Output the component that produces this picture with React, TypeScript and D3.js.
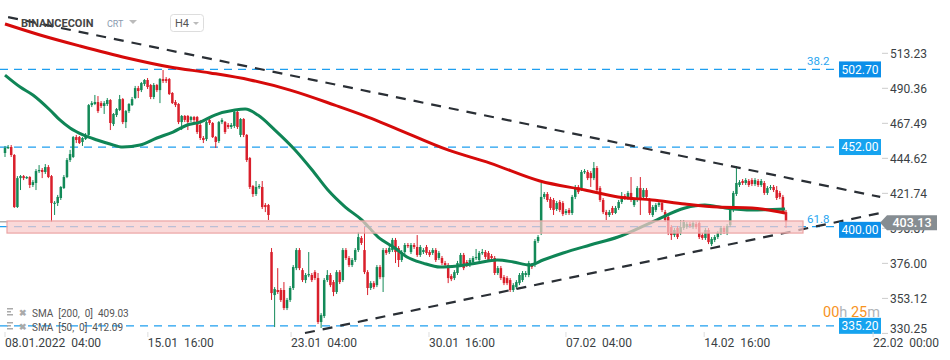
import React from 'react';
import * as d3 from 'd3';

// BNB H4 candles, 08.01.2022 04:00 onwards
const opens = [
  448.1, 451.4, 452.0, 446.8, 412.8, 431.7, 433.0, 431.7, 432.4, 427.2,
  428.5, 436.3, 437.0, 435.7, 438.9, 433.0, 415.4, 415.4, 418.7, 425.2,
  432.4, 443.5, 445.5, 458.5, 458.5, 455.3, 457.2, 459.9, 479.4, 480.1,
  481.4, 480.7, 478.8, 480.1, 482.7, 467.0, 472.9, 476.2, 483.3, 468.3,
  475.5, 479.4, 484.0, 490.5, 489.2, 493.2, 495.8, 492.5, 484.7, 492.5,
  489.2, 496.4, 496.4, 496.4, 487.3, 481.4, 480.1, 468.3, 472.3, 472.3,
  469.7, 471.6, 471.6, 466.4, 457.9, 457.2, 469.7, 467.7, 458.5, 455.9,
  468.3, 468.3, 466.4, 465.1, 465.7, 474.9, 459.9, 470.3, 459.9, 444.8,
  426.5, 421.3, 425.9, 425.9, 414.1, 414.1, 383.4, 355.3, 358.6, 358.6,
  358.6, 346.8, 352.1, 359.9, 372.9, 384.7, 371.6, 365.1, 368.4, 368.4,
  370.3, 366.4, 337.7, 341.6, 365.1, 368.4, 363.8, 357.3, 370.3, 365.1,
  384.7, 379.5, 374.9, 378.2, 384.7, 392.6, 384.7, 370.3, 359.9, 363.1,
  361.8, 373.6, 367.0, 384.7, 383.4, 384.7, 391.3, 386.0, 378.2, 383.4,
  388.0, 383.4, 388.0, 386.7, 381.5, 383.4, 386.7, 383.4, 382.8,
  384.7, 379.5, 379.5, 376.2, 374.9, 367.7, 366.4, 369.7, 374.9, 381.5,
  376.9, 374.9, 376.9, 379.5, 378.2, 382.8, 383.4, 382.8, 380.8,
  379.5, 369.7, 372.9, 367.0, 366.4, 365.1, 358.6, 360.5, 363.1, 365.1,
  368.4, 368.4, 374.9, 374.9, 390.6, 395.8, 419.4, 421.3, 418.0,
  417.4, 411.5, 416.1, 415.4, 408.9, 410.9, 408.9, 419.4, 425.9,
  424.6, 435.7, 435.7, 435.0, 431.7, 438.3, 425.2, 417.4, 409.5, 407.6,
  412.2, 408.9, 412.2, 416.1, 420.0, 418.7, 422.0, 414.1, 417.4, 425.2,
  419.4, 423.9, 417.4, 407.6, 410.9, 414.1, 415.4, 409.5, 406.3, 399.7,
  394.5, 399.1, 395.8, 399.1, 399.7, 401.7, 399.7, 401.7,
  402.4, 394.5, 392.6, 397.8, 388.6, 391.3, 393.2, 395.8, 399.1, 395.8,
  401.0, 410.9, 421.3, 427.2, 429.8, 428.5, 429.8, 430.4, 427.8, 429.8,
  427.2, 428.5, 422.0, 425.2, 425.9, 423.9, 422.0, 419.4, 409.5,
];
const closes = [
  451.4, 452.0, 446.8, 412.8, 431.7, 433.0, 431.7, 432.4, 427.2, 429.1,
  436.3, 437.0, 435.7, 438.9, 432.4, 415.4, 415.6, 419.4, 425.9, 432.4,
  443.5, 447.4, 458.5, 456.6, 454.6, 457.9, 459.9, 479.4, 480.7, 481.4,
  475.5, 478.8, 480.7, 482.7, 467.7, 473.6, 476.8, 483.3, 468.3, 475.5,
  480.1, 483.3, 490.5, 488.6, 493.8, 495.8, 491.2, 484.7, 492.5, 489.2,
  496.4, 495.1, 495.1, 486.6, 480.7, 479.4, 468.3, 472.3, 469.7, 468.3,
  471.6, 469.7, 461.8, 457.9, 456.6, 468.3, 467.7, 458.5, 455.3, 468.3,
  469.7, 461.8, 465.1, 466.4, 474.9, 465.1, 470.3, 459.9, 443.5, 425.9,
  421.3, 425.9, 426.5, 412.8, 412.8, 407.6, 356.6, 359.2, 357.3, 352.1,
  346.8, 352.1, 359.9, 373.6, 384.7, 372.9, 365.1, 368.4, 369.0, 365.1,
  366.4, 337.7, 342.2, 365.1, 368.4, 361.8, 357.3, 370.3, 363.8, 384.7,
  379.5, 374.9, 378.2, 384.7, 393.2, 389.3, 370.3, 359.9, 363.1, 360.5,
  373.6, 367.0, 384.7, 382.8, 386.0, 391.3, 383.4, 378.2, 383.4, 388.0,
  387.3, 388.0, 386.7, 381.5, 386.7, 384.7, 382.8, 381.5, 384.7,
  378.2, 382.8, 376.2, 374.9, 366.4, 365.7, 370.3, 376.2, 381.5, 372.9,
  374.9, 378.2, 379.5, 380.2, 382.8, 383.4, 380.2, 378.2, 379.5,
  369.7, 372.9, 366.4, 363.1, 363.1, 358.6, 361.8, 363.8, 368.4, 369.7,
  369.7, 376.2, 373.6, 390.6, 393.2, 419.4, 421.3, 417.4, 412.2,
  410.9, 415.4, 410.9, 408.2, 410.2, 408.9, 419.4, 425.9, 422.6,
  435.7, 436.3, 431.7, 431.7, 438.3, 423.9, 417.4, 409.5, 407.6, 409.5,
  408.9, 412.2, 416.1, 419.4, 418.7, 422.0, 417.4, 417.4, 425.2, 418.7,
  423.9, 419.4, 408.9, 412.8, 414.1, 415.4, 410.9, 404.3, 395.8, 394.5,
  397.8, 393.2, 399.7, 403.0, 401.7, 400.4, 402.4, 399.7,
  393.2, 392.6, 397.8, 389.9, 391.9, 393.2, 395.8, 399.1, 396.5, 400.4,
  410.9, 422.0, 428.5, 429.1, 428.5, 430.4, 427.2, 427.8, 430.4, 427.2,
  429.8, 422.0, 425.2, 425.9, 423.9, 418.7, 419.4, 409.5, 403.1,
];
const highs = [
  452.7, 453.3, 453.3, 447.4, 433.0, 433.7, 433.7, 433.0, 433.0, 430.4,
  437.6, 440.2, 438.3, 440.9, 440.2, 433.7, 416.7, 420.7, 426.5, 433.7,
  444.8, 450.1, 459.2, 459.9, 459.2, 458.5, 461.1, 480.1, 482.0, 486.0,
  485.3, 482.0, 482.0, 484.0, 483.3, 474.2, 477.5, 486.0, 484.0, 476.2,
  480.7, 484.7, 491.9, 491.9, 494.5, 496.4, 497.1, 493.2, 493.8, 493.2,
  497.1, 502.3, 497.7, 497.1, 487.9, 482.7, 480.7, 472.9, 472.9, 472.9,
  472.3, 472.3, 472.3, 469.7, 459.2, 469.0, 470.9, 468.3, 459.2, 469.0,
  470.9, 469.0, 467.7, 467.7, 476.2, 475.5, 470.9, 470.9, 460.5, 445.5,
  427.2, 429.8, 427.8, 429.8, 415.4, 414.8, 386.0, 360.5, 372.9, 359.9,
  363.8, 353.4, 361.2, 374.9, 386.0, 386.0, 372.9, 369.7, 383.4, 369.7,
  371.6, 369.7, 343.5, 366.4, 371.6, 369.7, 365.1, 371.6, 371.6, 386.0,
  386.0, 380.8, 379.5, 386.0, 396.5, 393.9, 399.7, 371.6, 364.4, 364.4,
  374.9, 374.9, 386.0, 386.0, 387.3, 392.6, 392.6, 387.3, 384.7, 389.3,
  389.3, 389.3, 389.3, 394.5, 388.0, 386.0, 388.0, 384.7, 386.0,
  386.0, 384.1, 380.8, 377.6, 376.2, 369.0, 371.6, 377.6, 382.8, 382.8,
  378.2, 379.5, 380.8, 385.4, 384.1, 385.4, 384.7, 384.1, 382.1,
  380.8, 374.3, 374.3, 368.4, 367.7, 366.4, 363.1, 365.1, 369.7, 371.0,
  371.0, 377.6, 376.2, 391.9, 394.5, 428.5, 422.6, 422.6, 419.4,
  418.7, 416.7, 417.4, 416.7, 411.5, 412.2, 420.7, 427.2, 427.2,
  437.0, 437.6, 437.0, 436.3, 442.2, 439.6, 426.5, 418.7, 410.9, 410.9,
  413.5, 413.5, 417.4, 422.6, 421.3, 423.3, 432.4, 418.7, 426.5, 432.4,
  425.2, 425.2, 418.7, 414.1, 415.4, 416.7, 416.7, 410.9, 407.6, 401.0,
  399.1, 400.4, 404.3, 404.3, 403.0, 403.0, 403.7, 403.0,
  403.7, 395.8, 399.1, 399.1, 393.2, 394.5, 397.1, 400.4, 400.4, 401.7,
  412.2, 423.3, 439.6, 430.4, 431.1, 431.7, 431.1, 431.7, 431.7, 431.1,
  431.1, 429.8, 426.5, 427.2, 427.2, 426.5, 423.3, 420.7, 410.9,
];
const lows = [
  445.5, 450.7, 445.5, 412.2, 412.2, 423.9, 430.4, 431.1, 425.2, 425.9,
  423.9, 435.0, 431.7, 434.4, 431.7, 403.0, 407.6, 413.5, 417.4, 424.6,
  431.7, 442.2, 444.8, 454.6, 454.0, 452.7, 456.6, 459.2, 478.1, 479.4,
  474.2, 477.5, 473.6, 478.8, 463.1, 465.7, 471.6, 475.5, 467.0, 464.4,
  474.2, 478.8, 483.3, 484.0, 487.9, 491.9, 489.9, 483.3, 483.3, 487.9,
  480.7, 493.8, 493.8, 486.0, 480.1, 478.1, 467.0, 463.1, 468.3, 463.1,
  468.3, 468.3, 460.5, 456.6, 454.6, 455.9, 466.4, 457.9, 451.4, 454.6,
  467.0, 460.5, 463.8, 463.8, 464.4, 463.8, 458.5, 458.5, 442.2, 424.6,
  419.4, 420.0, 424.6, 411.5, 409.5, 404.3, 352.1, 334.4, 356.0, 350.8,
  345.5, 345.5, 350.8, 358.6, 371.6, 371.6, 363.8, 363.1, 367.0, 363.8,
  365.1, 336.4, 333.8, 340.3, 363.8, 360.5, 354.6, 356.0, 362.5, 363.8,
  378.2, 373.6, 373.6, 376.9, 383.4, 388.0, 369.0, 355.3, 358.6, 359.2,
  360.5, 365.7, 357.3, 381.5, 382.1, 383.4, 376.2, 373.6, 376.9, 382.1,
  386.0, 382.1, 385.4, 380.2, 380.2, 382.1, 381.5, 380.2, 381.5,
  376.9, 378.2, 374.9, 373.6, 363.1, 364.4, 365.1, 368.4, 373.6, 371.6,
  373.6, 373.6, 375.6, 378.2, 376.9, 381.5, 378.8, 376.9, 378.2,
  368.4, 368.4, 365.1, 361.8, 361.8, 357.3, 357.3, 359.2, 361.8, 363.8,
  367.0, 367.0, 372.3, 373.6, 389.3, 394.5, 418.0, 416.1, 410.9,
  407.6, 410.2, 409.5, 406.9, 407.6, 407.6, 407.6, 418.0, 421.3,
  423.3, 434.4, 430.4, 425.9, 430.4, 422.6, 416.1, 408.2, 404.3, 406.3,
  407.6, 408.2, 410.9, 414.8, 417.4, 417.4, 416.1, 412.8, 416.1, 407.6,
  418.0, 418.0, 407.6, 406.3, 409.5, 412.8, 409.5, 403.0, 394.5, 391.3,
  393.2, 391.9, 394.5, 397.8, 398.4, 399.1, 398.4, 398.4,
  391.9, 391.3, 391.3, 388.6, 387.3, 389.9, 391.9, 394.5, 395.2, 394.5,
  399.7, 409.5, 420.0, 425.9, 427.2, 427.2, 425.9, 426.5, 426.5, 425.9,
  425.9, 420.7, 420.7, 423.9, 422.6, 417.4, 418.0, 408.2, 399.1,
];

// moving averages, sampled along the candle index
const sma200Idx = [0, 11.3, 24.2, 39.4, 53.2, 66.2, 79.1, 92.0, 106.4, 117.1, 125.8, 142.9, 156.5, 172.6, 187.1, 197.8, 208.8, 219.4, 230.1, 241.0, 251.7];
const sma200Val = [532.4, 525.2, 518.0, 510.2, 504.3, 500.4, 495.8, 489.2, 479.4, 471.6, 464.4, 450.1, 441.5, 429.8, 423.9, 419.4, 417.4, 414.8, 412.8, 412.2, 408.9];
const sma50Idx = [0, 4.9, 9.0, 14.5, 17.7, 21.0, 25.2, 29.7, 33.9, 38.0, 43.6, 49.0, 54.2, 58.8, 63.0, 67.7, 74.2, 77.5, 81.6, 87.1, 93.6, 99.1, 104.2, 109.8, 115.2, 120.4, 125.8, 129.7, 134.9, 140.4, 145.9, 152.3, 158.8, 164.0, 169.4, 173.6, 180.1, 188.8, 197.8, 208.8, 219.4, 225.8, 232.4, 241.0, 251.7];
const sma50Val = [499.0, 491.2, 486.0, 476.2, 469.7, 464.4, 459.9, 456.6, 454.0, 452.0, 453.3, 457.9, 461.8, 466.4, 468.3, 472.9, 476.2, 476.8, 472.9, 463.1, 450.1, 437.0, 423.9, 412.8, 404.3, 393.2, 386.0, 380.2, 376.2, 373.6, 374.3, 376.2, 378.2, 376.9, 374.9, 378.2, 382.8, 388.0, 393.2, 403.0, 412.2, 414.1, 412.2, 410.9, 411.5];

// trend lines: [startIdx, startPrice, endIdx, endPrice]
const upperTrend = [1, 536.9, 282.4, 419.4];
const lowerTrend = [96.8, 330.5, 282.4, 408.9];

const levels = [502.7, 452.0, 400.0, 335.2];
const fibLevels = [502.7, 400.0];
const fibTexts = ['38.2', '61.8'];
const zone = [395.8, 403.7];
const lastPrice = 403.13;

const yTicks = [513.23, 490.36, 467.49, 444.62, 421.74, 398.87, 376.0, 353.12, 330.25];
const xTickIdx = [0, 46.1, 92.3, 136.8, 181, 225.6, 280.1];
const xTickLabels = ['08.01.2022  04:00', '15.01  16:00', '23.01  04:00', '30.01  16:00', '07.02  04:00', '14.02  16:00', '22.02  00:00'];

const legendRows = ['SMA  [200,  0]  409.03', 'SMA  [50,  0]  412.09'];

const GREEN = '#138a58';
const RED = '#d91f2b';
const BLUE = '#1e9ff0';
const FONT = 'Roboto, "Noto Sans", sans-serif';

export default function App() {
  const W = 950;
  const H = 360;
  const x = d3.scaleLinear().domain([0, opens.length - 1]).range([5, 786]);
  const y = d3.scaleLinear().domain([330.25, 513.23]).range([333.4, 53.3]);

  const line = d3
    .line<[number, number]>()
    .x((d) => x(d[0]))
    .y((d) => y(d[1]))
    .curve(d3.curveMonotoneX);
  const sma200 = line(sma200Idx.map((v, i) => [v, sma200Val[i]]) as [number, number][]) || '';
  const sma50 = line(sma50Idx.map((v, i) => [v, sma50Val[i]]) as [number, number][]) || '';

  const yCur = y(lastPrice);

  return (
    <svg width={W} height={H} style={{ position: 'absolute', left: 0, top: 0, background: '#fff' }} fontFamily={FONT}>
      {/* level lines */}
      {levels.map((lv) => (
        <line key={lv} x1={0} x2={839} y1={y(lv)} y2={y(lv)} stroke={BLUE} strokeWidth={1.3} strokeDasharray="8,6" />
      ))}
      <line x1={0} x2={8} y1={yCur} y2={yCur} stroke="#888" strokeWidth={1} />

      {/* candles */}
      {opens.map((o, i) => {
        const c = closes[i];
        const col = c >= o ? GREEN : RED;
        const cx = x(i);
        const top = y(Math.max(o, c));
        const bot = y(Math.min(o, c));
        return (
          <g key={i}>
            <line x1={cx} x2={cx} y1={y(highs[i])} y2={y(lows[i])} stroke={col} strokeWidth={1} />
            <rect x={cx - 1.25} y={top} width={2.5} height={Math.max(1.2, bot - top)} fill={col} />
          </g>
        );
      })}

      {/* moving averages */}
      <path d={sma50} fill="none" stroke="#0f8556" strokeWidth={3} strokeLinejoin="round" />
      <path d={sma200} fill="none" stroke="#d60a0a" strokeWidth={3} strokeLinejoin="round" />

      {/* trend lines */}
      {[upperTrend, lowerTrend].map((t, i) => (
        <line key={i} x1={x(t[0])} y1={y(t[1])} x2={x(t[2])} y2={y(t[3])} stroke="#2a2f35" strokeWidth={2.2} strokeDasharray="10,8" />
      ))}

      {/* support zone */}
      <rect x={7} y={y(zone[1])} width={796} height={y(zone[0]) - y(zone[1])} fill="#f8caca" fillOpacity={0.72} stroke="#eba4a4" strokeWidth={1.2} />

      {/* fibo texts */}
      {fibLevels.map((lv, i) => (
        <text key={lv} x={807} y={y(lv) - 4} fontSize={11.5} fill="#29a6f0">
          {fibTexts[i]}
        </text>
      ))}

      {/* y axis */}
      {yTicks.map((t) => (
        <g key={t}>
          <line x1={882} x2={888} y1={y(t)} y2={y(t)} stroke="#ccc" />
          <text x={890} y={Math.min(y(t), 329)} dy="0.35em" fontSize={12} fill="#3a3f44">
            {t.toFixed(2)}
          </text>
        </g>
      ))}

      {/* level boxes */}
      {levels.map((lv) => {
        let ly = y(lv);
        if (Math.abs(ly - yCur) < 14) ly = yCur + 8;
        return (
          <g key={lv}>
            <rect x={839} y={ly - 8} width={42} height={16} fill={lv === 452 || lv === 335.2 ? '#16a3ef' : '#0c8fe9'} />
            <text x={860} y={ly} dy="0.36em" textAnchor="middle" fontSize={12} fill="#fff">
              {lv.toFixed(2)}
            </text>
          </g>
        );
      })}

      {/* last price */}
      <polygon
        points={`880,${yCur + 1} 887,${yCur - 6.5} 937,${yCur - 6.5} 937,${yCur + 8.5} 887,${yCur + 8.5}`}
        fill="#868d92"
      />
      <text x={912} y={yCur + 1} dy="0.36em" textAnchor="middle" fontSize={12.5} fontWeight={500} fill="#fff">
        {lastPrice.toFixed(2)}
      </text>

      {/* x axis */}
      {xTickIdx.map((t, i) => (
        <g key={i}>
          <line x1={x(t)} x2={x(t)} y1={332} y2={337} stroke="#ddd" />
          <text x={x(t)} y={347} fontSize={12} fill="#3a3f44" style={{ whiteSpace: 'pre' }}>
            {xTickLabels[i]}
          </text>
        </g>
      ))}

      {/* header */}
      <text x={21} y={27} fontSize={11} fontWeight={700} fill="#444">BINANCECOIN</text>
      <text x={107} y={26.5} fontSize={9} fill="#8a9aae">CRT</text>
      <polygon points="129,20 137,20 133,24" fill="#bbb" />
      <rect x={170.5} y={14.5} width={33} height={17} rx={3} fill="#fff" stroke="#ddd" />
      <text x={175} y={27} fontSize={11} fill="#555">H4</text>
      <polygon points="193,22 199,22 196,25" fill="#bbb" />

      {/* legend */}
      {legendRows.map((r, i) => (
        <g key={i} transform={`translate(0, ${313 + i * 14})`}>
          <rect x={7} y={-5} width={6} height={1.5} fill="#aaa" />
          <rect x={7} y={-2} width={4} height={1.5} fill="#aaa" />
          <rect x={7} y={1} width={6} height={1.5} fill="#aaa" />
          <text x={23} y={0} dy="0.35em" textAnchor="middle" fontSize={9} fontWeight={700} fill="#aaa">✖</text>
          <text x={32} y={0} dy="0.35em" fontSize={10} fill="#555" style={{ whiteSpace: 'pre' }}>
            {r}
          </text>
        </g>
      ))}

      {/* countdown */}
      <text x={823} y={317} fontSize={14.5}>
        <tspan fill="#f7931e">00</tspan>
        <tspan fill="#b0b4b8">h </tspan>
        <tspan fill="#f7931e">25</tspan>
        <tspan fill="#b0b4b8">m</tspan>
      </text>
    </svg>
  );
}
